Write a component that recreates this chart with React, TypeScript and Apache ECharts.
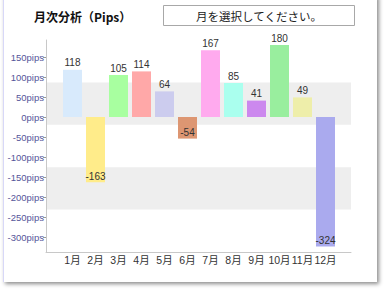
import React, { useEffect, useRef } from "react";
import * as echarts from "echarts";

const months = ["1月", "2月", "3月", "4月", "5月", "6月", "7月", "8月", "9月", "10月", "11月", "12月"];
const values = [118, -163, 105, 114, 64, -54, 167, 85, 41, 180, 49, -324];
const colors = ["#d8eafc", "#ffec8a", "#a8ffa0", "#ffa8a8", "#ccccee", "#dd9672", "#ffaaee", "#aaffee", "#cc88ee", "#99ee9e", "#eeeeaa", "#aaaaee"];
const yTicks = [-300, -250, -200, -150, -100, -50, 0, 50, 100, 150];
const monthIdx = months.map((_, i) => i);

export default function App() {
  const ref = useRef<HTMLDivElement>(null);
  useEffect(() => {
    if (!ref.current) return;
    const chart = echarts.init(ref.current, undefined, { renderer: "svg" });
    chart.setOption({
      animation: false,
      title: {
        text: "月次分析（Pips）",
        left: 29,
        top: 5,
        textStyle: { fontFamily: "Noto Sans CJK JP", fontSize: 12, fontWeight: "bold", color: "#111" },
      },
      graphic: [
        {
          type: "rect",
          shape: { x: 163.5, y: 5.5, width: 191, height: 20 },
          style: { fill: "#fff", stroke: "#a8a8a8", lineWidth: 1 },
        },
        {
          type: "text",
          x: 259,
          y: 16,
          style: {
            text: "月を選択してください。",
            fontFamily: "Noto Sans CJK JP",
            fontSize: 11.5,
            fill: "#222",
            align: "center",
            verticalAlign: "middle",
          },
        },
      ],
      grid: { left: 46, right: 33, top: 40, bottom: 39 },
      xAxis: {
        type: "value",
        min: (46 - 72.5) / 23,
        max: (351 - 72.5) / 23,
        splitLine: { show: false },
        axisTick: { show: false },
        axisLine: { show: true, onZero: false, lineStyle: { color: "#c8c8c8" } },
        axisLabel: {
          customValues: monthIdx,
          formatter: (v: number) => months[Math.round(v)] ?? "",
          fontFamily: "Liberation Sans, Noto Sans CJK JP",
          fontSize: 10.5,
          color: "#333",
          margin: 3,
          hideOverlap: false,
          showMinLabel: true,
          showMaxLabel: true,
        },
      },
      yAxis: [
        {
          type: "value",
          min: -337.5,
          max: 192.5,
          splitLine: { show: false },
          axisLine: { show: true, onZero: false, lineStyle: { color: "#c8c8c8" } },
          axisTick: { show: true, length: 3, customValues: yTicks, lineStyle: { color: "#999" } },
          axisLabel: {
            customValues: yTicks,
            formatter: (v: number) => `${v}pips`,
            fontFamily: "Liberation Sans",
            fontSize: 9.5,
            color: "#55559a",
            margin: 2,
          },
        },
        {
          type: "value",
          min: 0,
          max: 5,
          interval: 1,
          position: "right",
          axisLine: { show: false },
          axisTick: { show: false },
          axisLabel: { show: false },
          splitLine: { show: false },
          splitArea: { show: true, areaStyle: { color: ["rgba(255,255,255,0)", "#eeeeee"] } },
        },
      ],
      series: [
        {
          type: "bar",
          yAxisIndex: 0,
          barWidth: 19,
          data: values.map((v, i) => ({
            value: [i, v],
            itemStyle: { color: colors[i] },
            label: { position: v >= 0 ? "top" : "insideBottom", distance: v >= 0 ? 2 : 1 },
          })),
          label: {
            show: true,
            formatter: (p: any) => String(p.value[1]),
            fontFamily: "Liberation Sans",
            fontSize: 10,
            color: "#333",
          },
        },
      ],
    });
    return () => chart.dispose();
  }, []);
  return (
    <div style={{ position: "fixed", left: 0, top: 0, width: 384, height: 291, background: "#fff", overflow: "hidden" }}>
      <div
        style={{
          position: "absolute",
          left: 3,
          top: -5,
          width: 373,
          height: 287,
          background: "#fff",
          borderLeft: "1px solid #d8d8f8",
          boxShadow: "2px 2px 4px rgba(0,0,0,0.45)",
        }}
      />
      <div ref={ref} style={{ position: "absolute", left: 0, top: 0, width: 384, height: 291 }} />
    </div>
  );
}
